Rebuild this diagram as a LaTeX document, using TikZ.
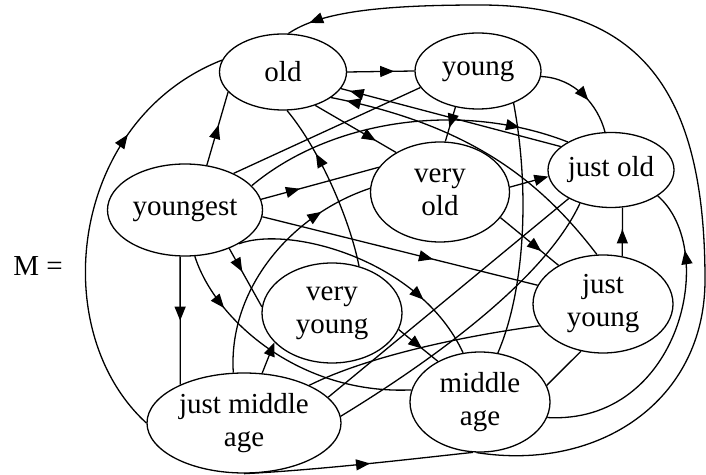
\documentclass[tikz,border=0pt]{standalone}
\usepackage{fontspec}
\setmainfont{Liberation Serif}
\usetikzlibrary{arrows.meta,shapes.geometric,decorations.markings}

\begin{document}
\begin{tikzpicture}[
    x=0.5pt, y=-0.5pt,
    font=\fontsize{14.5}{16.5}\selectfont,
    >={Triangle[length=7pt,width=5.5pt]},
    state/.style ={ellipse, draw, line width=0.65pt, inner sep=0pt, align=center},
    link/.style  ={line width=0.65pt},
    marr/.style  ={link, postaction={decorate, decoration={markings,
                     mark=at position #1 with {\arrow{>}}}}},
    tarr/.style  ={link, ->}
  ]
  \useasboundingbox (0,0) rectangle (706,475);

  \node (lbl) at (38,266) {M =};

  \node[state, minimum width=63.5pt, minimum height=38pt] (old)      at (283,72)  {old};
  \node[state, minimum width=63pt,   minimum height=38pt] (young)    at (478,71)  {young};
  \node[state, minimum width=77.5pt, minimum height=46pt] (youngest) at (185,210) {youngest};
  \node[state, minimum width=69.5pt, minimum height=50pt] (vold)     at (440,192) {very\\old};
  \node[state, minimum width=63pt,   minimum height=37.5pt] (jold)   at (611,170) {just old};
  \node[state, minimum width=70pt,   minimum height=49pt] (jyoung)   at (603,304) {just\\young};
  \node[state, minimum width=70pt,   minimum height=50pt] (vyoung)   at (332,313) {very\\young};
  \node[state, minimum width=70pt,   minimum height=50pt] (middle)   at (480,402) {middle\\age};
  \node[state, minimum width=97pt,   minimum height=50pt] (jma)      at (244,423) {just middle\\age};

  % edges out of youngest
  \draw[marr=0.55] (youngest.64) -- (old.200);
  \draw[marr=0.5]  (youngest.264) -- (jma.149);
  \draw[marr=0.22] (youngest.282) .. controls (215,320) and (300,395) .. (middle.170);
  \draw[marr=0.4]  (youngest.319) -- (vyoung.175);
  \draw[marr=0.33] (youngest.8) -- (vold.158);
  \draw[marr=0.85] (youngest.20) .. controls (330,120) and (460,100) .. (jold.147);
  \draw[marr=0.62] (youngest.355) -- (jyoung.164);
  \draw[marr=0.75] (youngest.328) .. controls (290,225) and (420,260) .. (middle.109);
  \draw[link]      (young.196) -- (youngest.37);

  % old and young
  \draw[marr=0.7]  (old.east) -- (young.west);
  \draw[marr=0.75] (old.314) -- (vold.138);
  \draw[marr=0.6]  (young.238) -- (vold.84);
  \draw[marr=0.6]  (young.355) .. controls (575,78) and (598,105) .. (jold.99);
  \draw[link]      (young.318) .. controls (530,190) and (525,290) .. (middle.70);
  \draw[marr=0.96] (jold.155) -- (old.344);
  \draw[marr=0.95] (jyoung.97) .. controls (540,180) and (470,125) .. (old.332);
  \draw[marr=0.7]  (vyoung.60) .. controls (350,220) and (320,150) .. (old.276);

  % middle of the graph
  \draw[tarr]      (vold.4) -- (jold.186);
  \draw[marr=0.7]  (vold.337) -- (jyoung.139);
  \draw[marr=0.6]  (vyoung.346) -- (middle.136);
  \draw[marr=0.55] (jyoung.68) -- (jold.287);
  \draw[link]      (middle.14) -- (jyoung.245);
  \draw[marr=0.8]  (middle.347) .. controls (680,425) and (720,250) .. (jold.331);

  % edges out of just middle age
  \draw[marr=0.72] (jma.180) .. controls (45,330) and (70,120) .. (old.169);
  \draw[marr=0.78] (jma.102) .. controls (228,290) and (290,215) .. (vold.177);
  \draw[tarr]      (jma.70) -- (vyoung.207);
  \draw[link]      (jma.17) -- (jold.214);
  \draw[link]      (jma.4) .. controls (400,380) and (540,290) .. (jold.227);
  \draw[link]      (jma.30) .. controls (370,355) and (470,335) .. (jyoung.199);
  \draw[marr=0.55] (jma.270) .. controls (320,470) and (420,458) .. (middle.262);

  % outer loop back to old
  \draw[marr=0.975] (middle.266) .. controls (600,472) and (705,400) .. (705,280)
                    .. controls (705,90) and (640,5) .. (480,5)
                    .. controls (380,5) and (320,12) .. (old.82);
\end{tikzpicture}
\end{document}
